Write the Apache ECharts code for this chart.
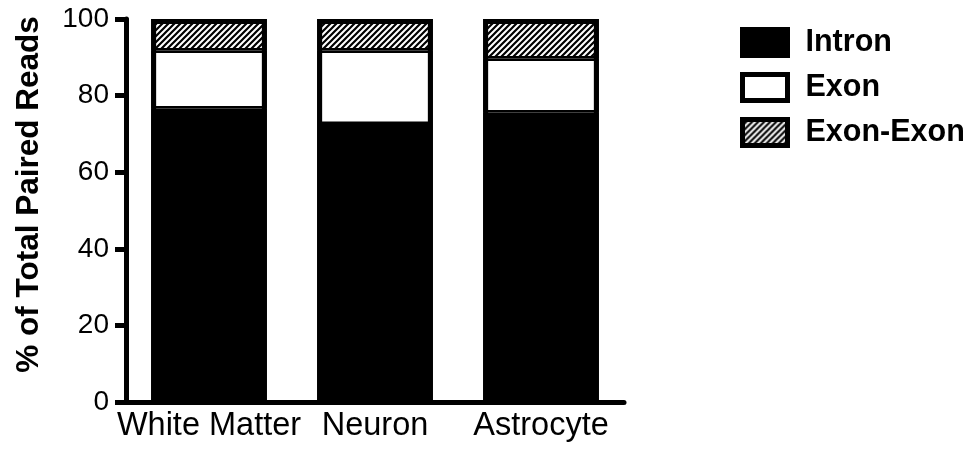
<!DOCTYPE html>
<html>
<head>
<meta charset="utf-8">
<script src="https://cdn.jsdelivr.net/npm/echarts@6/dist/echarts.min.js"></script>
<style>html,body{margin:0;padding:0;background:#fff;}#c{width:968px;height:451px;}</style>
</head>
<body>
<div id="c"></div>
<script>
const categories = ['White Matter', 'Neuron', 'Astrocyte'];
const intron = [76.6, 72.6, 75.6];
const exon = [15.2, 19.2, 14.1];
const exonExon = [8.2, 8.2, 10.3];
const seriesNames = ['Intron', 'Exon', 'Exon-Exon'];
const yTicks = [0, 20, 40, 60, 80, 100];

const FONT = "'Liberation Sans', Arial, sans-serif";

function hatch() {
  const s = 6;
  const cv = document.createElement('canvas');
  cv.width = s; cv.height = s;
  const ctx = cv.getContext('2d');
  ctx.fillStyle = '#fff';
  ctx.fillRect(0, 0, s, s);
  ctx.strokeStyle = '#000';
  ctx.lineWidth = 2.2;
  ctx.beginPath();
  ctx.moveTo(-1, s + 1); ctx.lineTo(s + 1, -1);
  ctx.moveTo(-1, 1); ctx.lineTo(1, -1);
  ctx.moveTo(s - 1, s + 1); ctx.lineTo(s + 1, s - 1);
  ctx.stroke();
  return { image: cv, repeat: 'repeat' };
}
const hatchFill = hatch();

const segStyles = [
  { color: '#000', borderColor: '#000', borderWidth: 2.5 },
  { color: '#fff', borderColor: '#000', borderWidth: 2.5 },
  { color: hatchFill, borderColor: '#000', borderWidth: 2.5 }
];
const legendStyles = [
  { color: '#000', borderColor: '#000', borderWidth: 5 },
  { color: '#fff', borderColor: '#000', borderWidth: 5 },
  { color: hatchFill, borderColor: '#000', borderWidth: 5 }
];
const values = [intron, exon, exonExon];
const totals = categories.map((_, i) => intron[i] + exon[i] + exonExon[i]);

const GAP = '30.3%';
const series = seriesNames.map((n, i) => ({
  name: n,
  type: 'bar',
  stack: 'total',
  barCategoryGap: GAP,
  barGap: '-100%',
  data: values[i],
  itemStyle: segStyles[i],
  emphasis: { disabled: true },
  z: 2
}));
series.push({
  name: 'frame',
  type: 'bar',
  barCategoryGap: GAP,
  barGap: '-100%',
  data: totals,
  itemStyle: { color: 'rgba(0,0,0,0)', borderColor: '#000', borderWidth: 5 },
  emphasis: { disabled: true },
  silent: true,
  z: 3
});

const chart = echarts.init(document.getElementById('c'), null, { renderer: 'canvas' });
chart.setOption({
  backgroundColor: '#fff',
  animation: false,
  grid: { left: 126, right: 344, top: 19, bottom: 49, containLabel: false },
  legend: {
    orient: 'vertical',
    left: 735,
    top: 22,
    itemWidth: 45,
    itemHeight: 26,
    itemGap: 14,
    icon: 'rect',
    selectedMode: false,
    textStyle: { fontSize: 30.5, fontWeight: 'bold', color: '#000', fontFamily: FONT, padding: [0, 0, 0, 13], lineHeight: 30 },
    data: seriesNames.map((n, i) => ({ name: n, itemStyle: legendStyles[i] }))
  },
  xAxis: {
    type: 'category',
    data: categories,
    axisLine: { show: true, lineStyle: { color: '#000', width: 5 } },
    axisTick: { show: false },
    axisLabel: { color: '#000', fontSize: 32.5, fontFamily: FONT, margin: 8, interval: 0 },
    splitLine: { show: false }
  },
  yAxis: {
    type: 'value',
    min: yTicks[0],
    max: yTicks[yTicks.length - 1],
    interval: yTicks[1] - yTicks[0],
    name: '% of Total Paired Reads',
    nameLocation: 'middle',
    nameGap: 81,
    nameTextStyle: { color: '#000', fontSize: 31.5, fontWeight: 'bold', fontFamily: FONT, padding: [0, 0, 0, 32] },
    axisLine: { show: true, lineStyle: { color: '#000', width: 5 } },
    axisTick: { show: true, length: 11, lineStyle: { color: '#000', width: 5 } },
    axisLabel: { color: '#000', fontSize: 28, fontFamily: FONT, margin: 17 },
    splitLine: { show: false }
  },
  series: series
});
</script>
</body>
</html>
